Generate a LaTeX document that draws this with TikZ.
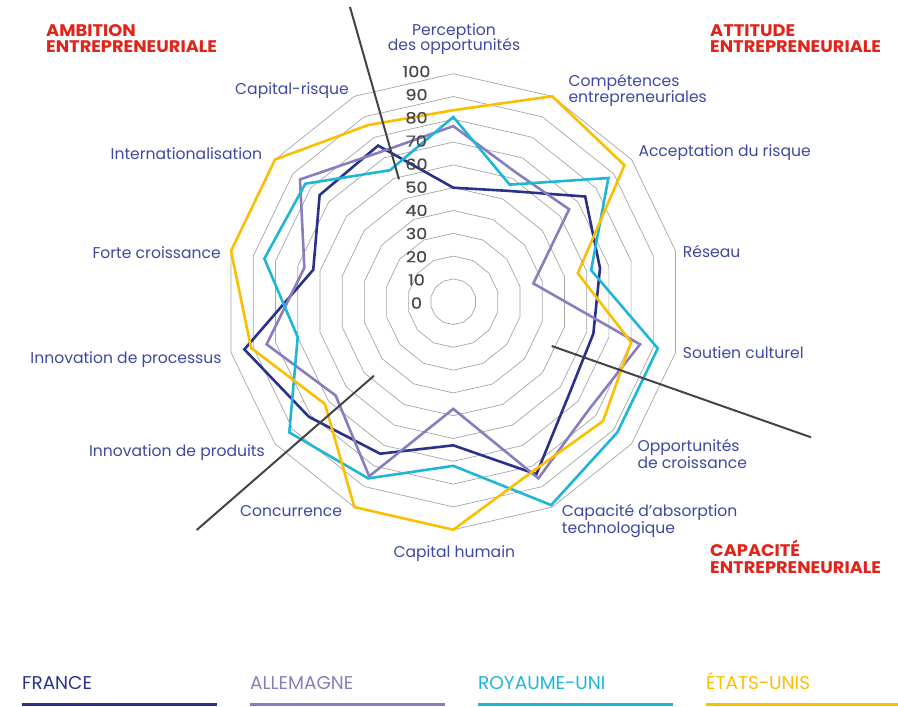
\documentclass[tikz,border=0pt]{standalone}
\usepackage{fontspec}
\setmainfont{Poppins}
\newfontfamily\numfont[FakeStretch=1.15,FakeBold=0.4]{Poppins}
\newfontfamily\hdfont[FakeStretch=1.06]{Poppins}
\definecolor{frc}{RGB}{40,50,140}
\definecolor{dec}{RGB}{138,125,190}
\definecolor{ukc}{RGB}{30,182,214}
\definecolor{usc}{RGB}{251,190,0}
\definecolor{lblc}{RGB}{62,72,160}
\definecolor{hdc}{RGB}{226,35,26}
\definecolor{gridc}{RGB}{165,165,165}
\definecolor{numc}{RGB}{72,72,72}
\definecolor{sepc}{RGB}{68,68,68}
\begin{document}
\begin{tikzpicture}[x=1pt,y=1pt,
  gridline/.style={draw=gridc,line width=0.7pt},
  series/.style={line width=2.6pt,line join=miter,miter limit=6},
  sepline/.style={draw=sepc,line width=2pt},
  lbl/.style={inner sep=0pt,text=lblc,font=\fontsize{15.6}{18}\selectfont},
  hd/.style={inner sep=0pt,text=hdc,font=\fontsize{16.8}{19}\hdfont\bfseries,anchor=base west},
  numlbl/.style={inner sep=0pt,text=numc,font=\fontsize{15.3}{17}\numfont},
  leg/.style={inner sep=0pt,font=\fontsize{18.5}{20}\selectfont,anchor=base west},
  legline/.style={line width=3.2pt}]
\useasboundingbox (0,0) rectangle (898,-707);

% radar
\begin{scope}[shift={(453.3,-301.7)}]
  \foreach \k in {1,...,10}{
    \draw[gridline] (90:{22.8*\k}) \foreach \i in {1,...,13}{ -- ({90-\i*360/14}:{22.8*\k}) } -- cycle;
  }
  \foreach \v [count=\i from 0] in {50,54,74,66,63,65,84,63,74,81,94,63,75,76}
    \coordinate (fr\i) at ({90-\i*360/14}:{2.28*\v});
  \foreach \v [count=\i from 0] in {77,63,65,36,84,76,86,47,85,66,84,67,86,73}
    \coordinate (de\i) at ({90-\i*360/14}:{2.28*\v});
  \foreach \v [count=\i from 0] in {81,57,87,62,92,92,99,72,86,92,70,85,83,64}
    \coordinate (uk\i) at ({90-\i*360/14}:{2.28*\v});
  \foreach \v [count=\i from 0] in {84,100,96,56,80,84,82,100,100,72,91,100,100,86}
    \coordinate (us\i) at ({90-\i*360/14}:{2.28*\v});
  \draw[series,frc] (fr0) \foreach \i in {1,...,13}{ -- (fr\i) } -- cycle;
  \draw[series,dec] (de0) \foreach \i in {1,...,13}{ -- (de\i) } -- cycle;
  \draw[series,ukc] (uk0) \foreach \i in {1,...,13}{ -- (uk\i) } -- cycle;
  \draw[series,usc] (us0) \foreach \i in {1,...,13}{ -- (us\i) } -- cycle;
\end{scope}

% scale numbers
\foreach \k in {0,...,10}{
  \pgfmathtruncatemacro{\val}{10*\k}
  \node[numlbl] (n\k) at (416.5,{-303+23.15*\k}) {\val};
}

% separators
\coordinate (s1a) at (350,-7);    \coordinate (s1b) at (399,-179.3);
\coordinate (s2a) at (551.7,-346); \coordinate (s2b) at (811,-437.3);
\coordinate (s3a) at (374,-375.7); \coordinate (s3b) at (196.7,-530);
\draw[sepline] (s1a) -- (s1b);
\draw[sepline] (s2a) -- (s2b);
\draw[sepline] (s3a) -- (s3b);

% axis labels
\node[lbl,anchor=base] (l0a) at (454,-35) {Perception};
\node[lbl,anchor=base] (l0b) at (454,-50.7) {des opportunités};
\node[lbl,anchor=base west] (l1a) at (568.3,-86.2) {Compétences};
\node[lbl,anchor=base west] (l1b) at (568.3,-102.8) {entrepreneuriales};
\node[lbl,anchor=base west] (l2) at (638.3,-156.2) {Acceptation du risque};
\node[lbl,anchor=base west] (l3) at (682.7,-257.5) {Réseau};
\node[lbl,anchor=base west] (l4) at (682.7,-358.8) {Soutien culturel};
\node[lbl,anchor=base west] (l5a) at (637.3,-451.2) {Opportunités};
\node[lbl,anchor=base west] (l5b) at (637.3,-468.8) {de croissance};
\node[lbl,anchor=base west] (l6a) at (561.7,-516.2) {Capacité d’absorption};
\node[lbl,anchor=base west] (l6b) at (561.7,-533.8) {technologique};
\node[lbl,anchor=base] (l7) at (454.3,-557.2) {Capital humain};
\node[lbl,anchor=base east] (l8) at (342.3,-516.2) {Concurrence};
\node[lbl,anchor=base east] (l9) at (265,-456.2) {Innovation de produits};
\node[lbl,anchor=base east] (l10) at (221.7,-363) {Innovation de processus};
\node[lbl,anchor=base east] (l11) at (221,-258.2) {Forte croissance};
\node[lbl,anchor=base east] (l12) at (262.3,-159.8) {Internationalisation};
\node[lbl,anchor=base east] (l13) at (349,-94.8) {Capital-risque};

% headings
\node[hd] (h1a) at (46,-36.3) {AMBITION};
\node[hd] (h1b) at (46,-52.6) {ENTREPRENEURIALE};
\node[hd] (h2a) at (710,-36.3) {ATTITUDE};
\node[hd] (h2b) at (710,-52.6) {ENTREPRENEURIALE};
\node[hd] (h3a) at (710,-556.2) {CAPACITÉ};
\node[hd] (h3b) at (710,-573.2) {ENTREPRENEURIALE};

% legend
\node[leg,text=frc] (tfr) at (22,-689.3) {FRANCE};
\node[leg,text=dec] (tde) at (250,-689.3) {ALLEMAGNE};
\node[leg,text=ukc] (tuk) at (478,-689.3) {ROYAUME-UNI};
\node[leg,text=usc] (tus) at (706,-689.3) {ÉTATS-UNIS};
\coordinate (lfa) at (22,-704.7);  \coordinate (lfb) at (217,-704.7);
\coordinate (lda) at (250,-704.7); \coordinate (ldb) at (445,-704.7);
\coordinate (lua) at (478,-704.7); \coordinate (lub) at (673,-704.7);
\coordinate (lsa) at (706,-704.7); \coordinate (lsb) at (898,-704.7);
\draw[legline,frc] (lfa) -- (lfb);
\draw[legline,dec] (lda) -- (ldb);
\draw[legline,ukc] (lua) -- (lub);
\draw[legline,usc] (lsa) -- (lsb);
\end{tikzpicture}
\end{document}
